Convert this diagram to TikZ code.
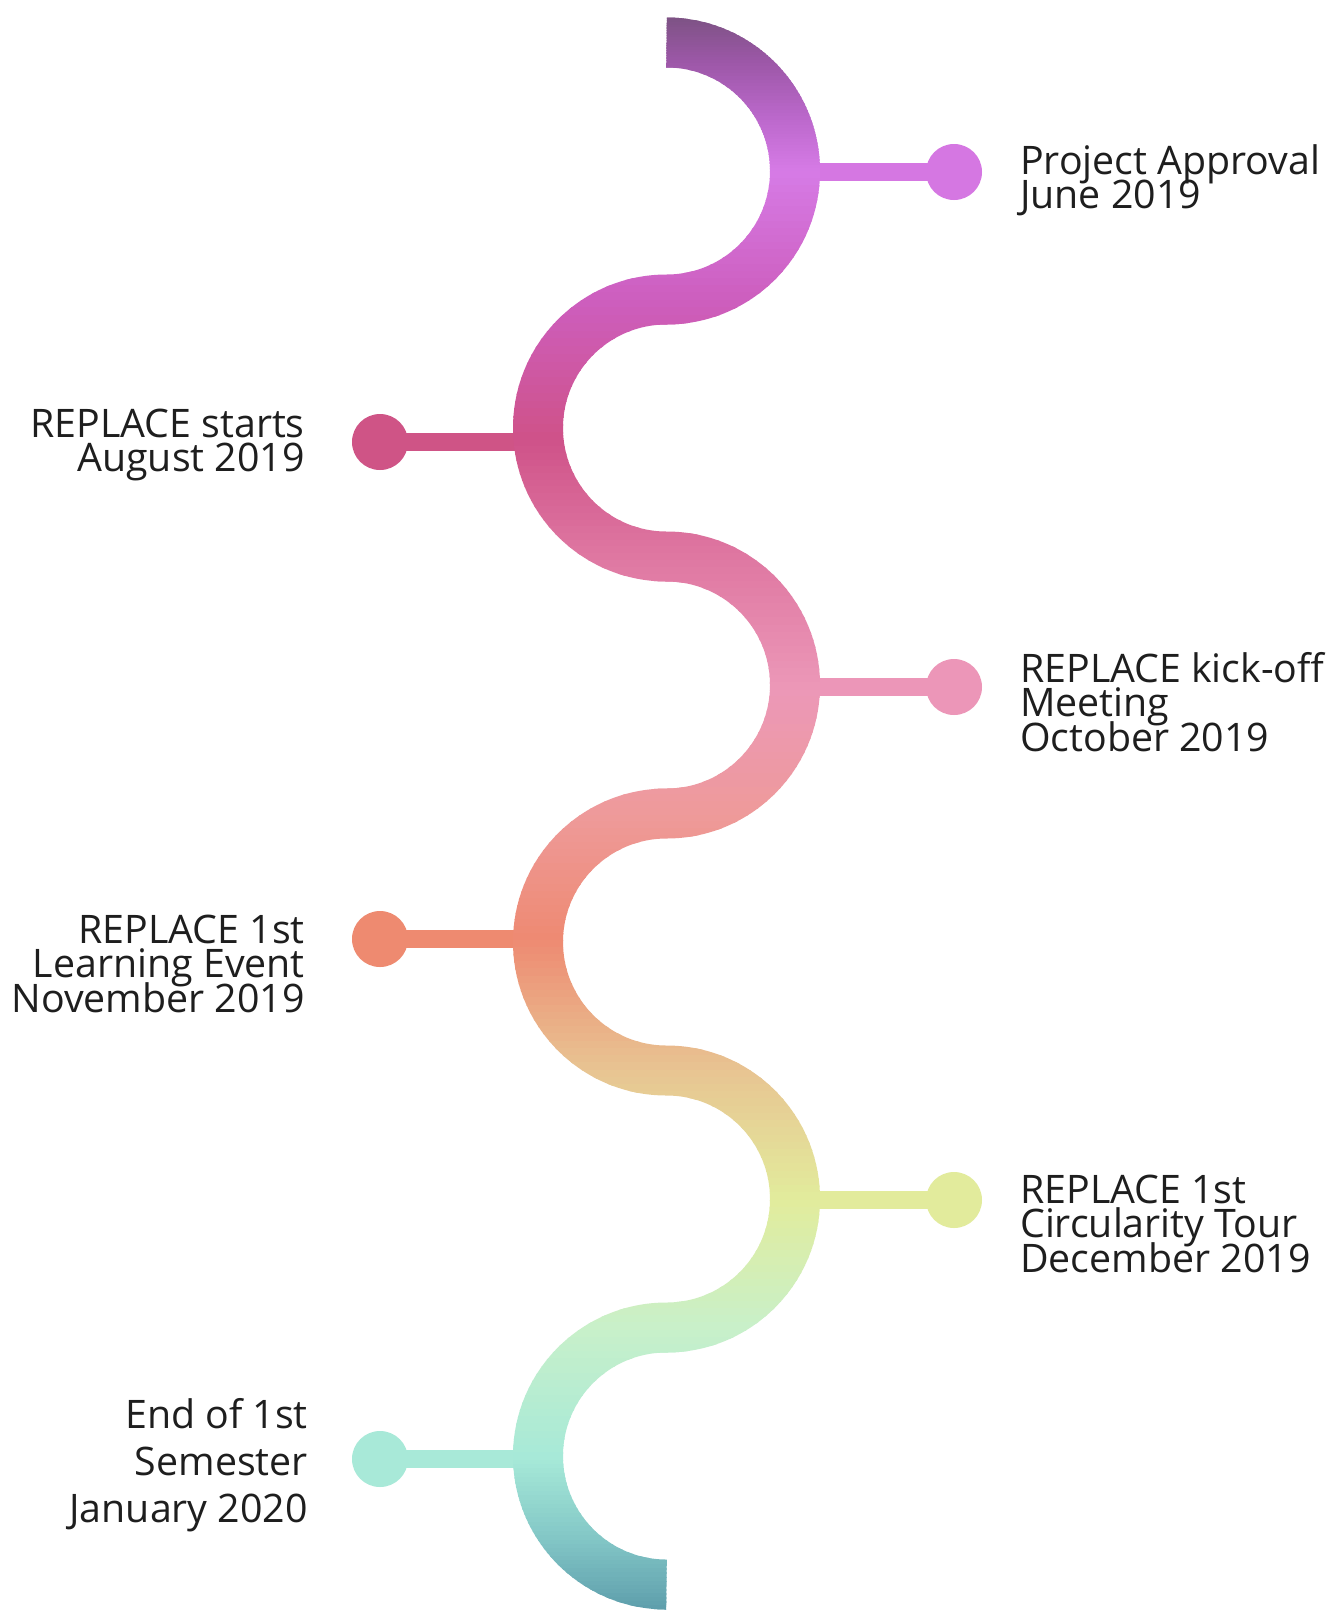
\documentclass[tikz,border=0pt]{standalone}
\usepackage{fontspec}
\newfontfamily\labelfont{Open Sans}
\definecolor{s0}{HTML}{7B5282}
\definecolor{s1}{HTML}{9B57A6}
\definecolor{s2}{HTML}{BC68CC}
\definecolor{s3}{HTML}{D67BE6}
\definecolor{s4}{HTML}{CD5EBE}
\definecolor{s5}{HTML}{CF5289}
\definecolor{s6}{HTML}{DF78A2}
\definecolor{s7}{HTML}{EC98B8}
\definecolor{s8}{HTML}{EE9A9A}
\definecolor{s9}{HTML}{EE8A72}
\definecolor{s10}{HTML}{E8C492}
\definecolor{s11}{HTML}{E2EC9C}
\definecolor{s12}{HTML}{C8F0CA}
\definecolor{s13}{HTML}{A6E9D8}
\definecolor{s14}{HTML}{82C6C6}
\definecolor{s15}{HTML}{5C9CAA}
\definecolor{d1}{HTML}{D577E2}
\definecolor{d2}{HTML}{CF5486}
\definecolor{d3}{HTML}{EC96B8}
\definecolor{d4}{HTML}{EE8A70}
\definecolor{d5}{HTML}{E2EB9C}
\definecolor{d6}{HTML}{A8E9D8}
\definecolor{labelgray}{HTML}{1E1E1E}
\newcommand{\snakepath}{(666.5,42.5)
  arc[start angle=-90,end angle=90,radius=128.5]
  arc[start angle=270,end angle=90,radius=128.5]
  arc[start angle=-90,end angle=90,radius=128.5]
  arc[start angle=270,end angle=90,radius=128.5]
  arc[start angle=-90,end angle=90,radius=128.5]
  arc[start angle=270,end angle=90,radius=128.5]}
\newcommand{\leftlines}[2][34.5pt]{\vtop{\baselineskip=#1\lineskiplimit=-1000pt\halign{##\hfil\cr#2\crcr}}}
\newcommand{\rightlines}[2][34.5pt]{\vtop{\baselineskip=#1\lineskiplimit=-1000pt\halign{\hfil##\cr#2\crcr}}}
\tikzset{
  conn/.style={line width=18pt},
  dotstyle/.style={circle, inner sep=0pt, minimum size=56pt, draw=none},
  lbl/.style={inner sep=0pt, text=labelgray, font=\labelfont\fontsize{39.3}{34.5}\selectfont},
}
\begin{document}
\begin{tikzpicture}[x=1pt,y=1pt,yscale=-1]
\fill[white] (0,0) rectangle (1343,1618);
\useasboundingbox (0,0) rectangle (1343,1618);
% connectors and dots
\coordinate (j1) at (795,172);
\coordinate (j2) at (538,442);
\coordinate (j3) at (795,687);
\coordinate (j4) at (538,939);
\coordinate (j5) at (795,1200);
\coordinate (j6) at (538,1459);
\node[dotstyle, fill=d1] (dot1) at (954,172) {};
\node[dotstyle, fill=d2] (dot2) at (380,442) {};
\node[dotstyle, fill=d3] (dot3) at (954,687) {};
\node[dotstyle, fill=d4] (dot4) at (380,939) {};
\node[dotstyle, fill=d5] (dot5) at (954,1200) {};
\node[dotstyle, fill=d6] (dot6) at (380,1459) {};
\draw[conn, d1] (j1) -- (dot1.center);
\draw[conn, d2] (j2) -- (dot2.center);
\draw[conn, d3] (j3) -- (dot3.center);
\draw[conn, d4] (j4) -- (dot4.center);
\draw[conn, d5] (j5) -- (dot5.center);
\draw[conn, d6] (j6) -- (dot6.center);
% gradient snake band
\foreach \ya/\yb/\ca/\cb in {15/60/s0/s1,60/120/s1/s2,120/171/s2/s3,171/300/s3/s4,300/440/s4/s5,440/560/s5/s6,560/690/s6/s7,690/815/s7/s8,815/940/s8/s9,940/1070/s9/s10,1070/1200/s10/s11,1200/1330/s11/s12,1330/1460/s12/s13,1460/1540/s13/s14,1540/1614/s14/s15}{
  \foreach \k in {0,...,17}{
    \pgfmathsetmacro\ys{\ya+(\yb-\ya)*\k/18}
    \pgfmathsetmacro\ye{\ya+(\yb-\ya)*(\k+1)/18+0.8}
    \pgfmathsetmacro\p{100-100*(\k+0.5)/18}
    \begin{scope}
      \clip (400,\ys) rectangle (900,\ye);
      \draw[line width=50pt, draw={\ca!\p!\cb}] \snakepath;
    \end{scope}
  }
}
% labels
\node[lbl, anchor=base west] (t1) at (1020,174) {\leftlines{Project Approval\cr June 2019}};
\node[lbl, anchor=base east] (t2) at (305,437) {\rightlines{REPLACE starts\cr August 2019}};
\node[lbl, anchor=base west] (t3) at (1020,682) {\leftlines{REPLACE kick-off\cr Meeting\cr October 2019}};
\node[lbl, anchor=base east] (t4) at (305,943) {\rightlines{REPLACE 1st\cr Learning Event\cr November 2019}};
\node[lbl, anchor=base west] (t5) at (1020,1203) {\leftlines{REPLACE 1st\cr Circularity Tour\cr December 2019}};
\node[lbl, anchor=base east] (t6) at (308,1428) {\rightlines[47pt]{End of 1st\cr Semester\cr January 2020}};
\end{tikzpicture}
\end{document}
